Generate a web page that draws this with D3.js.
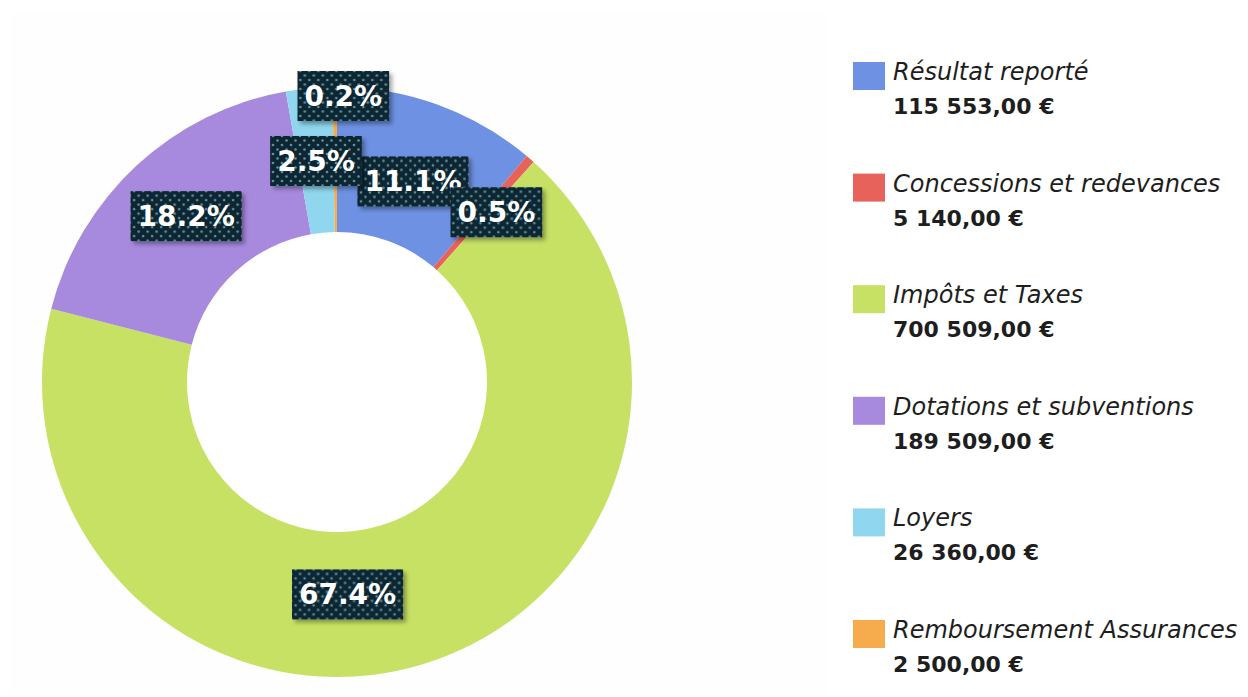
<!DOCTYPE html>
<html>
<head>
<meta charset="utf-8">
<script src="https://cdn.jsdelivr.net/npm/d3@7"></script>
<style>
  html, body { margin: 0; padding: 0; background: #ffffff; }
  svg { display: block; }
</style>
</head>
<body>
<svg id="chart" width="1248" height="697"></svg>
<script>
// ---- data ----
const categories = ["Résultat reporté", "Concessions et redevances", "Impôts et Taxes",
                    "Dotations et subventions", "Loyers", "Remboursement Assurances"];
const values = [115553, 5140, 700509, 189509, 26360, 2500];
const colors = ["#6e91e3", "#e8625c", "#c7e164", "#a78ade", "#8fd6ee", "#f6ac4c"];
// manual label nudges (pixels) applied to the arc centroid, like a moved data label
const labelNudgeX = [0, 14, -54, 0, 0, 8];
const labelNudgeY = [8, -2, 0, -3, 0, -64];

const svg = d3.select("#chart");

// very faint chart-area backdrop
svg.append("rect").attr("x", 10).attr("y", 12).attr("width", 818).attr("height", 683)
  .attr("fill", "#fefefe");

const defs = svg.append("defs");
const pat = defs.append("pattern").attr("id", "dots").attr("patternUnits", "userSpaceOnUse")
  .attr("width", 9).attr("height", 9);
pat.append("rect").attr("width", 9).attr("height", 9).attr("fill", "#0e2631");
pat.append("circle").attr("cx", 2).attr("cy", 2).attr("r", 1.3).attr("fill", "#5a93a2");
pat.append("circle").attr("cx", 6.5).attr("cy", 6.5).attr("r", 1.3).attr("fill", "#5a93a2");
const flt = defs.append("filter").attr("id", "shadow").attr("x", "-20%").attr("y", "-20%")
  .attr("width", "150%").attr("height", "160%");
flt.append("feDropShadow").attr("dx", 3).attr("dy", 3).attr("stdDeviation", 2)
  .attr("flood-color", "#000").attr("flood-opacity", 0.35);

const cx = 337, cy = 382, rOuter = 295, rInner = 150;
const total = d3.sum(values);
const pie = d3.pie().sort(null).value(d => d);
const arcs = pie(values);
const arc = d3.arc().innerRadius(rInner).outerRadius(rOuter);
const labelArc = d3.arc().innerRadius(222).outerRadius(222);

const g = svg.append("g").attr("transform", `translate(${cx},${cy})`);
g.append("circle").attr("r", rInner).attr("fill", "#ffffff");
g.selectAll("path.slice").data(arcs).join("path")
  .attr("class", "slice")
  .attr("d", arc)
  .attr("fill", (d, i) => colors[i]);

const pct = d3.format(".1%");
const lab = g.selectAll("g.lab").data(arcs).join("g").attr("class", "lab")
  .attr("transform", (d, i) => {
    const c = labelArc.centroid(d);
    return `translate(${c[0] + labelNudgeX[i]},${c[1] + labelNudgeY[i]})`;
  });
lab.each(function (d) {
  const sel = d3.select(this);
  const t = sel.append("text")
    .attr("text-anchor", "middle")
    .attr("dy", "0.36em")
    .attr("font-family", "DejaVu Sans, Verdana, sans-serif")
    .attr("font-weight", "bold")
    .attr("font-size", 28)
    .attr("fill", "#ffffff")
    .text(pct(d.value / total));
  const bb = t.node().getBBox();
  sel.insert("rect", "text")
    .attr("x", bb.x - 7).attr("y", -25)
    .attr("width", bb.width + 14).attr("height", 50)
    .attr("fill", "url(#dots)")
    .attr("filter", "url(#shadow)");
});

// ---- legend ----
const fr = d3.formatLocale({ decimal: ",", thousands: "\u00a0", grouping: [3], currency: ["", "\u00a0€"] });
const money = fr.format("$,.2f");
const ly = d3.scalePoint().domain(d3.range(categories.length)).range([72, 630]);
const leg = svg.append("g");
const item = leg.selectAll("g").data(categories).join("g")
  .attr("transform", (d, i) => `translate(853,${ly(i)})`);
item.append("rect").attr("x", 0).attr("y", -10).attr("width", 32).attr("height", 28)
  .attr("fill", (d, i) => colors[i]);
item.append("text").attr("x", 40).attr("y", 8)
  .attr("font-family", "'Comic Sans MS', 'DejaVu Sans', sans-serif")
  .attr("font-style", "italic").attr("font-size", 24).attr("fill", "#1e1e1e")
  .text(d => d);
item.append("text").attr("x", 40).attr("y", 42)
  .attr("font-family", "'Comic Sans MS', 'DejaVu Sans', sans-serif")
  .attr("font-weight", "bold").attr("font-size", 22).attr("fill", "#1e1e1e")
  .text((d, i) => money(values[i]));
</script>
</body>
</html>
